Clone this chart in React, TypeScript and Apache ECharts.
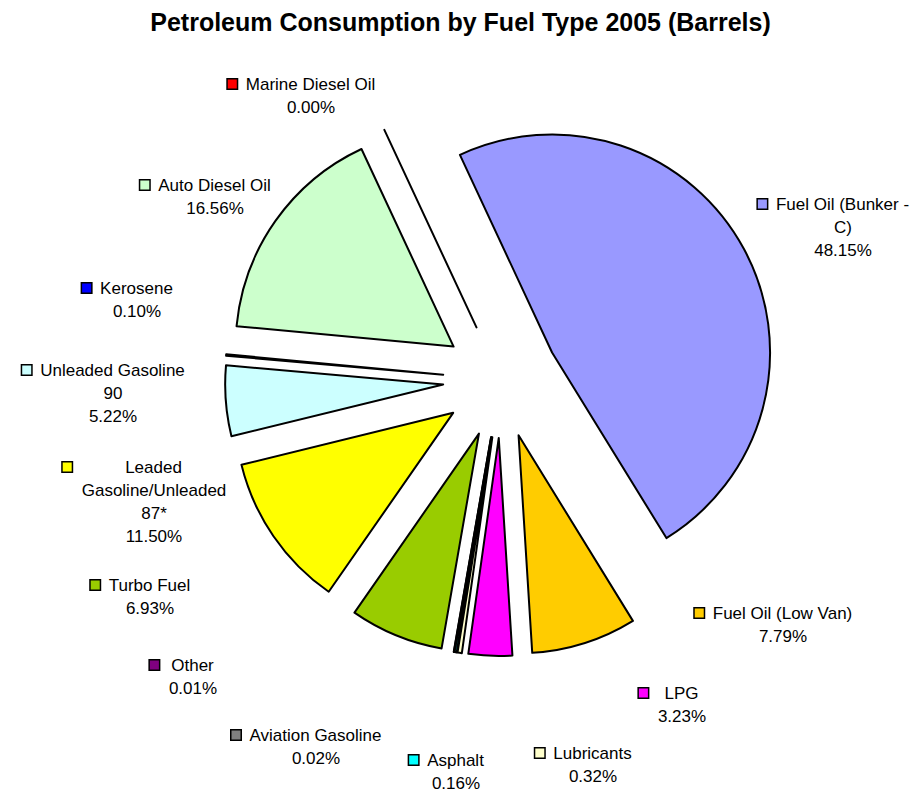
import React, { useEffect, useRef } from "react";
import * as echarts from "echarts";

const categories = [
  "Fuel Oil (Bunker -\nC)",
  "Fuel Oil (Low Van)",
  "LPG",
  "Lubricants",
  "Asphalt",
  "Aviation Gasoline",
  "Other",
  "Turbo Fuel",
  "Leaded\nGasoline/Unleaded\n87*",
  "Unleaded Gasoline\n90",
  "Kerosene",
  "Auto Diesel Oil",
  "Marine Diesel Oil",
];
const shares = [48.15, 7.79, 3.23, 0.32, 0.16, 0.02, 0.01, 6.93, 11.5, 5.22, 0.1, 16.56, 0.0];
const sliceColors = [
  "#9999FF", "#FFCC00", "#FF00FF", "#FFFFCC", "#00FFFF", "#808080", "#800080",
  "#99CC00", "#FFFF00", "#CCFFFF", "#0000FF", "#CCFFCC", "#FF0000",
];
// label anchor layout: [text centre x, first line centre y]
const labelAnchors: [number, number][] = [
  [843, 204], [783, 613], [682, 693], [593, 753], [456, 760], [316, 735], [193, 665],
  [150, 585], [154, 467], [113, 370], [137, 288], [215, 185], [311, 84],
];

const LH = 23;
const FONT = "'Liberation Sans', Arial, sans-serif";
const CENTER = [501, 380];
const RADIUS = 218;
const START = 115;

export default function App() {
  const ref = useRef<HTMLDivElement>(null);
  useEffect(() => {
    if (!ref.current) return;
    const chart = echarts.init(ref.current, null, { renderer: "svg" });
    const rich: Record<string, any> = {
      t: { fontSize: 17, fontFamily: FONT, color: "#000", lineHeight: LH, align: "center" },
      g: { width: 9, height: 9, lineHeight: LH, align: "left" },
      l: { width: 19, height: 9, lineHeight: LH, align: "left" },
      r: { width: 19, height: 9, lineHeight: LH, align: "right" },
    };
    sliceColors.forEach((c, i) => {
      rich["k" + i] = {
        width: 9,
        height: 9,
        lineHeight: LH,
        align: "left",
        backgroundColor: c,
        borderColor: "#000",
        borderWidth: 1.5,
      };
    });
    const sliceData = categories.map((n, i) => ({
      name: n,
      value: shares[i],
      selected: true,
      itemStyle: { color: sliceColors[i] },
    }));
    const labelData = categories.map((n, i) => ({ name: n, value: shares[i] }));
    chart.setOption({
      animation: false,
      title: {
        text: "Petroleum Consumption by Fuel Type 2005 (Barrels)",
        left: "center",
        top: 4,
        textStyle: { fontSize: 25, fontWeight: "bold", fontFamily: FONT, color: "#000" },
      },
      series: [
        {
          type: "pie",
          center: CENTER,
          radius: RADIUS,
          startAngle: START,
          clockwise: true,
          selectedMode: "multiple",
          selectedOffset: 58,
          silent: true,
          emphasis: { disabled: true },
          itemStyle: { borderColor: "#000", borderWidth: 2 },
          select: { itemStyle: { borderColor: "#000", borderWidth: 2 } },
          label: { show: false },
          labelLine: { show: false },
          data: sliceData,
        },
        {
          type: "pie",
          center: CENTER,
          radius: RADIUS,
          startAngle: START,
          clockwise: true,
          silent: true,
          z: 1,
          avoidLabelOverlap: false,
          emphasis: { disabled: true },
          itemStyle: { color: "rgba(0,0,0,0)", borderWidth: 0 },
          labelLine: { show: false },
          label: {
            show: true,
            position: "outside",
            align: "center",
            rich,
            formatter: (p: any) => {
              const i = p.dataIndex;
              const lines = categories[i].split("\n").concat([shares[i].toFixed(2) + "%"]);
              return lines
                .map((ln, j) =>
                  j === 0 ? `{k${i}|}{g|}{t|${ln}}{r|}` : `{l|}{t|${ln}}{r|}`
                )
                .join("\n");
            },
          },
          labelLayout: (p: any) => {
            const a = labelAnchors[p.dataIndex];
            return { x: a[0], y: a[1] - LH / 2, align: "center", verticalAlign: "top" };
          },
          data: labelData,
        },
      ],
    });
    return () => chart.dispose();
  }, []);
  return (
    <div
      ref={ref}
      style={{ position: "fixed", left: 0, top: 0, width: 921, height: 791, background: "#fff" }}
    />
  );
}
